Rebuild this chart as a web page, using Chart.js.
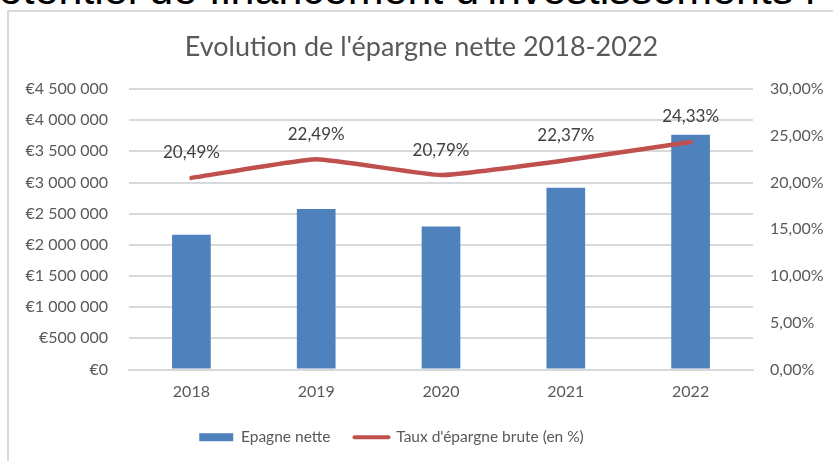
<!DOCTYPE html>
<html>
<head>
<meta charset="utf-8">
<script src="https://cdn.jsdelivr.net/npm/chart.js@4"></script>
<style>
  html, body { margin:0; padding:0; background:#fff; overflow:hidden; }
  body { width:833px; height:461px; position:relative; }
  #topText { position:absolute; left:-30px; top:-32px; font-family:"Liberation Sans", Arial, sans-serif; font-size:43px; line-height:1; color:#000; white-space:nowrap; }
  #frame { position:absolute; left:7px; top:10px; width:900px; height:500px; border:2px solid #d9d9d9; box-sizing:border-box; }
  #wrap { position:absolute; left:0; top:0; width:833px; height:461px; }
</style>
</head>
<body>
<div id="topText">Potentiel de financement d'investissements r</div>
<div id="frame"></div>
<div id="wrap"><canvas id="c" width="833" height="461"></canvas></div>
<script>
const chartTitle = "Evolution de l'épargne nette 2018-2022";
const categories = ["2018", "2019", "2020", "2021", "2022"];
const epargneNette = [2160000, 2575000, 2295000, 2915000, 3765000];
const tauxEpargne = [20.49, 22.49, 20.79, 22.37, 24.33];
const seriesNames = ["Epagne nette", "Taux d'épargne brute (en %)"];
const leftTicks = [0, 500000, 1000000, 1500000, 2000000, 2500000, 3000000, 3500000, 4000000, 4500000];
const rightTicks = [0, 5, 10, 15, 20, 25, 30];

const FONT = "Lato, 'Open Sans', sans-serif";
const GREY = '#595959';

function fmtEuro(v) {
  const s = Math.round(v).toString().replace(/\B(?=(\d{3})+(?!\d))/g, ' ');
  return '€' + s;
}
function fmtPct(v, d) {
  return v.toFixed(d).replace('.', ',') + '%';
}

const lineLabels = {
  id: 'lineLabels',
  afterDatasetsDraw(chart) {
    const meta = chart.getDatasetMeta(1);
    const ctx = chart.ctx;
    ctx.save();
    ctx.font = '17px ' + FONT;
    ctx.fillStyle = '#404040';
    ctx.textAlign = 'center';
    ctx.textBaseline = 'middle';
    meta.data.forEach((pt, i) => {
      ctx.fillText(fmtPct(tauxEpargne[i], 2), pt.x, pt.y - 25);
    });
    ctx.restore();
  }
};

function wrapShift(box, dx) {
  if (!box || box._shifted) return;
  const orig = box.draw;
  box.draw = function () {
    const c = this.ctx;
    c.save();
    c.translate(dx, 0);
    orig.apply(this, arguments);
    c.restore();
  };
  box._shifted = true;
}
const shiftBoxes = {
  id: 'shiftBoxes',
  beforeDraw(chart) {
    wrapShift(chart.legend, -25);
    wrapShift(chart.titleBlock, 5);
  }
};

new Chart(document.getElementById('c'), {
  type: 'bar',
  data: {
    labels: categories,
    datasets: [
      {
        type: 'bar',
        label: seriesNames[0],
        data: epargneNette,
        backgroundColor: '#4f81bd',
        borderWidth: 0,
        yAxisID: 'y',
        barPercentage: 0.31,
        categoryPercentage: 1,
        order: 2
      },
      {
        type: 'line',
        label: seriesNames[1],
        data: tauxEpargne,
        borderColor: '#c0504d',
        backgroundColor: '#c0504d',
        borderWidth: 4.5,
        borderCapStyle: 'round',
        borderJoinStyle: 'round',
        pointRadius: 0,
        tension: 0.12,
        yAxisID: 'y1',
        order: 1
      }
    ]
  },
  options: {
    responsive: false,
    animation: false,
    events: [],
    layout: { padding: { top: 11, left: 0, right: 0, bottom: 6 } },
    plugins: {
      title: {
        display: true,
        text: chartTitle,
        color: GREY,
        font: { family: FONT, size: 27, weight: 'normal' },
        padding: { top: 19.8, bottom: 25.8 }
      },
      legend: {
        position: 'bottom',
        labels: {
          color: GREY,
          font: { family: FONT, size: 15.5 },
          usePointStyle: true,
          pointStyleWidth: 34,
          boxHeight: 8,
          padding: 24,
          generateLabels(chart) {
            return [
              { text: seriesNames[0], fillStyle: '#4f81bd', strokeStyle: '#4f81bd', lineWidth: 0, pointStyle: 'rect', datasetIndex: 0, fontColor: GREY },
              { text: seriesNames[1], fillStyle: '#c0504d', strokeStyle: '#c0504d', lineWidth: 4, lineCap: 'round', pointStyle: 'line', datasetIndex: 1, fontColor: GREY }
            ];
          }
        }
      },
      tooltip: { enabled: false }
    },
    scales: {
      x: {
        grid: { display: false, drawTicks: false },
        border: { display: true, color: '#d9d9d9', width: 2 },
        ticks: { color: GREY, font: { family: FONT, size: 16 }, padding: 13 },
        afterFit(s) { s.height = 36; }
      },
      y: {
        position: 'left',
        min: 0, max: 4500000,
        afterBuildTicks(s) { s.ticks = leftTicks.map(v => ({ value: v })); },
        grid: { color: '#d9d9d9', lineWidth: 2, drawTicks: false },
        border: { display: false },
        ticks: { color: GREY, font: { family: FONT, size: 16 }, padding: 21, callback: v => fmtEuro(v) },
        afterFit(s) { s.width = 129; }
      },
      y1: {
        position: 'right',
        min: 0, max: 30,
        afterBuildTicks(s) { s.ticks = rightTicks.map(v => ({ value: v })); },
        grid: { display: false, drawTicks: false },
        border: { display: false },
        ticks: { color: GREY, font: { family: FONT, size: 16 }, padding: 17, callback: v => fmtPct(v, 2) },
        afterFit(s) { s.width = 80; }
      }
    }
  },
  plugins: [lineLabels, shiftBoxes]
});
</script>
</body>
</html>
